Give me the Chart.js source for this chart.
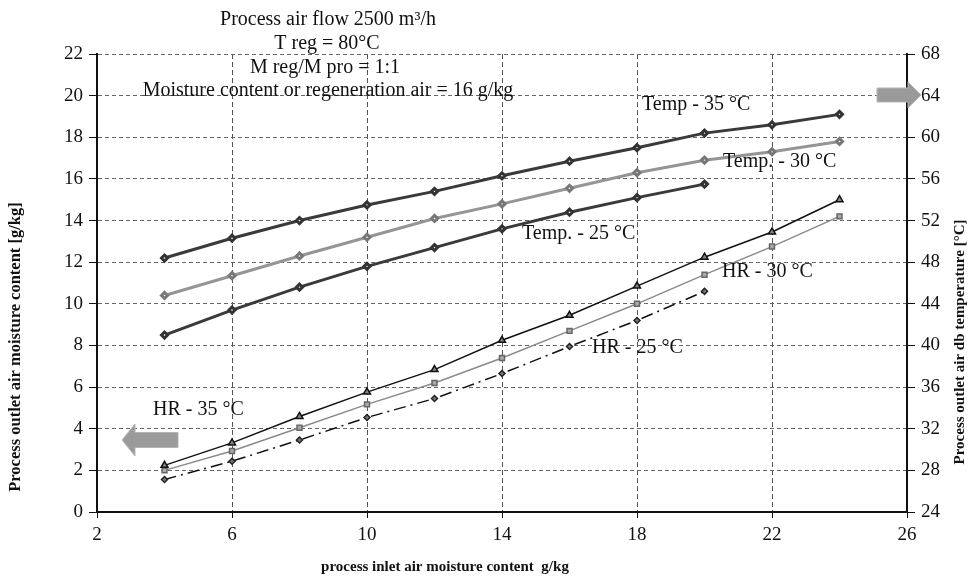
<!DOCTYPE html>
<html>
<head>
<meta charset="utf-8">
<script src="https://cdn.jsdelivr.net/npm/chart.js@4.4.1/dist/chart.umd.min.js"></script>
<style>
  body { margin: 0; background: #fff; }
  #wrap { width: 970px; height: 580px; }
</style>
</head>
<body>
<div id="wrap"><canvas id="chart" width="970" height="580"></canvas></div>
<script>
// inlet moisture content, g/kg
var inlet = [4, 6, 8, 10, 12, 14, 16, 18, 20, 22, 24];
var inlet25 = [4, 6, 8, 10, 12, 14, 16, 18, 20];

// outlet moisture content, g/kg (left axis)
var hr35 = [2.24, 3.32, 4.59, 5.76, 6.84, 8.25, 9.45, 10.85, 12.24, 13.45, 15.0];
var hr30 = [2.0, 2.93, 4.05, 5.17, 6.2, 7.4, 8.7, 10.0, 11.4, 12.75, 14.2];
var hr25 = [1.56, 2.44, 3.46, 4.54, 5.45, 6.65, 7.95, 9.2, 10.6];

// outlet db temperature, °C (right axis)
var temp35 = [48.4, 50.3, 52.0, 53.5, 54.8, 56.3, 57.7, 59.0, 60.4, 61.2, 62.2];
var temp30 = [44.8, 46.7, 48.6, 50.4, 52.2, 53.6, 55.1, 56.6, 57.8, 58.6, 59.6];
var temp25 = [41.0, 43.4, 45.6, 47.6, 49.4, 51.2, 52.8, 54.2, 55.5];

var SERIF = "'Liberation Serif', 'Times New Roman', serif";

function pts(xs, ys) {
  return xs.map(function (x, i) { return {x: x, y: ys[i]}; });
}

function drawArrow(ctx, tipX, baseX, endX, cy, bodyH, headH) {
  ctx.beginPath();
  ctx.moveTo(tipX, cy);
  ctx.lineTo(baseX, cy - headH / 2);
  ctx.lineTo(baseX, cy - bodyH / 2);
  ctx.lineTo(endX, cy - bodyH / 2);
  ctx.lineTo(endX, cy + bodyH / 2);
  ctx.lineTo(baseX, cy + bodyH / 2);
  ctx.lineTo(baseX, cy + headH / 2);
  ctx.closePath();
  ctx.fillStyle = '#9a9a9a';
  ctx.fill();
  ctx.strokeStyle = '#b5b5b5';
  ctx.lineWidth = 1;
  ctx.stroke();
}

var notes = {
  id: 'notes',
  afterDraw: function (chart) {
    var ctx = chart.ctx;
    ctx.save();
    ctx.fillStyle = '#111';
    ctx.textBaseline = 'middle';

    ctx.font = '20px ' + SERIF;
    ctx.textAlign = 'center';
    ctx.fillText('Process air flow 2500 m\u00b3/h', 328, 20);
    ctx.fillText('T reg = 80\u00b0C', 327, 44);
    ctx.fillText('M reg/M pro = 1:1', 325, 68);
    ctx.fillText('Moisture content or regeneration air = 16 g/kg', 328, 91);

    ctx.textAlign = 'left';
    ctx.fillText('Temp - 35 \u00b0C', 642, 105);
    ctx.fillText('Temp. - 30 \u00b0C', 723, 162);
    ctx.fillText('Temp. - 25 \u00b0C', 522, 234);
    ctx.fillText('HR - 30 \u00b0C', 722, 272);
    ctx.fillText('HR - 25 \u00b0C', 592, 348);
    ctx.fillText('HR - 35 \u00b0C', 153, 410);

    drawArrow(ctx, 122, 135, 178, 440, 15, 32);
    drawArrow(ctx, 921, 908, 877, 95, 14, 26);

    ctx.fillStyle = '#111';
    ctx.font = 'bold 15px ' + SERIF;
    ctx.textAlign = 'center';
    ctx.fillText('process inlet air moisture content  g/kg', 445, 567);

    ctx.save();
    ctx.font = 'bold 16.5px ' + SERIF;
    ctx.translate(16, 347);
    ctx.rotate(-Math.PI / 2);
    ctx.fillText('Process outlet air moisture content [g/kg]', 0, 0);
    ctx.restore();

    ctx.save();
    ctx.translate(960, 342);
    ctx.rotate(-Math.PI / 2);
    ctx.fillText('Process outlet air db temperature [\u00b0C]', 0, 0);
    ctx.restore();

    ctx.restore();
  }
};

var ctx = document.getElementById('chart').getContext('2d');
new Chart(ctx, {
  type: 'line',
  data: {
    datasets: [
      {
        label: 'Temp - 35 °C', data: pts(inlet, temp35), yAxisID: 'y2',
        borderColor: '#3a3a3a', borderWidth: 3,
        pointStyle: 'rectRot', pointRadius: 3, pointBackgroundColor: '#fff', pointBorderColor: '#333'
      },
      {
        label: 'Temp. - 30 °C', data: pts(inlet, temp30), yAxisID: 'y2',
        borderColor: '#959595', borderWidth: 3,
        pointStyle: 'rectRot', pointRadius: 3, pointBackgroundColor: '#fff', pointBorderColor: '#777'
      },
      {
        label: 'Temp. - 25 °C', data: pts(inlet25, temp25), yAxisID: 'y2',
        borderColor: '#3a3a3a', borderWidth: 3,
        pointStyle: 'rectRot', pointRadius: 3, pointBackgroundColor: '#fff', pointBorderColor: '#333'
      },
      {
        label: 'HR - 35 °C', data: pts(inlet, hr35), yAxisID: 'y',
        borderColor: '#111', borderWidth: 1.5,
        pointStyle: 'triangle', pointRadius: 4, pointBackgroundColor: '#888', pointBorderColor: '#111'
      },
      {
        label: 'HR - 30 °C', data: pts(inlet, hr30), yAxisID: 'y',
        borderColor: '#8a8a8a', borderWidth: 1.5,
        pointStyle: 'rect', pointRadius: 3.5, pointBackgroundColor: '#aaa', pointBorderColor: '#666'
      },
      {
        label: 'HR - 25 °C', data: pts(inlet25, hr25), yAxisID: 'y',
        borderColor: '#111', borderWidth: 1.5, borderDash: [12, 5, 2, 5],
        pointStyle: 'rectRot', pointRadius: 3, pointBackgroundColor: '#777', pointBorderColor: '#222'
      }
    ]
  },
  options: {
    responsive: false,
    animation: false,
    layout: { padding: { top: 54 } },
    plugins: {
      legend: { display: false },
      tooltip: { enabled: false }
    },
    scales: {
      x: {
        type: 'linear', min: 2, max: 26,
        afterFit: function (s) { s.height = 68; },
        ticks: { stepSize: 4, color: '#111', padding: 6, font: { family: SERIF, size: 19 } },
        grid: {
          color: function (c) { return (c.tick && (c.tick.value === 2 || c.tick.value === 26)) ? 'rgba(0,0,0,0)' : '#555'; },
          tickColor: '#111', tickLength: 6, tickBorderDash: []
        },
        border: { color: '#111', width: 2, dash: [5, 3] }
      },
      y: {
        position: 'left', min: 0, max: 22,
        afterFit: function (s) { s.width = 97; },
        ticks: { stepSize: 2, color: '#111', padding: 6, font: { family: SERIF, size: 19 } },
        grid: { color: '#666', tickColor: '#111', tickLength: 8, tickBorderDash: [] },
        border: { color: '#111', width: 2, dash: [4, 3] }
      },
      y2: {
        position: 'right', min: 24, max: 68,
        afterFit: function (s) { s.width = 63; },
        ticks: { stepSize: 4, color: '#111', padding: 6, font: { family: SERIF, size: 19 } },
        grid: { drawOnChartArea: false, tickColor: '#111', tickLength: 8 },
        border: { color: '#111', width: 2 }
      }
    }
  },
  plugins: [notes]
});
</script>
</body>
</html>
